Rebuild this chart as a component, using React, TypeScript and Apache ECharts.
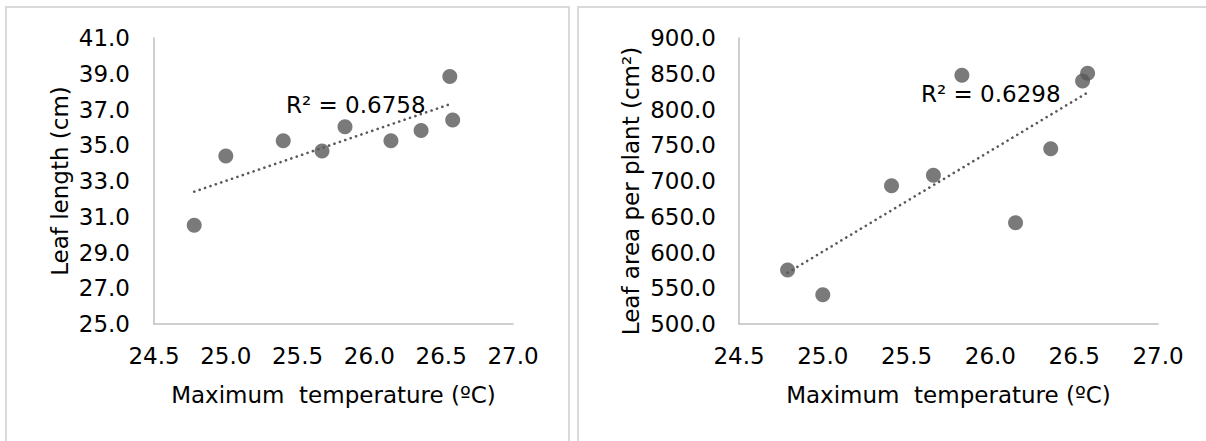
import React, { useEffect, useRef } from "react";
import * as echarts from "echarts";

// Maximum temperature (ºC) per observation
const maxTemp = [24.78, 25.0, 25.4, 25.67, 25.83, 26.15, 26.36, 26.56, 26.58];
// Leaf length (cm)
const leafLength = [30.52, 34.4, 35.25, 34.68, 36.04, 35.25, 35.82, 38.84, 36.41];
// Leaf area per plant (cm²) – temps for this panel
const maxTemp2 = [24.79, 25.0, 25.41, 25.66, 25.83, 26.15, 26.36, 26.55, 26.58];
const leafArea = [575.5, 541.0, 693.5, 708.0, 847.8, 641.7, 745.2, 839.9, 850.6];

const r2Left = "R² = 0.6758";
const r2Right = "R² = 0.6298";

const xTitle = "Maximum  temperature (ºC)";
const yTitleLeft = "Leaf length (cm)";
const yTitleRight = "Leaf area per plant (cm²)";

function trend(xs: number[], ys: number[]): number[][] {
  const n = xs.length;
  const mx = xs.reduce((a, b) => a + b, 0) / n;
  const my = ys.reduce((a, b) => a + b, 0) / n;
  let sxy = 0;
  let sxx = 0;
  for (let i = 0; i < n; i++) {
    sxy += (xs[i] - mx) * (ys[i] - my);
    sxx += (xs[i] - mx) * (xs[i] - mx);
  }
  const b = sxy / sxx;
  const a = my - b * mx;
  const x0 = Math.min(...xs);
  const x1 = Math.max(...xs);
  return [
    [x0, a + b * x0],
    [x1, a + b * x1],
  ];
}

const FONT = "DejaVu Sans";
const MARK = "#595959";

export default function App() {
  const ref = useRef<HTMLDivElement>(null);
  useEffect(() => {
    if (!ref.current) return;
    const chart = echarts.init(ref.current, undefined, { renderer: "svg" });
    const axisLine = { show: true, lineStyle: { color: "#bfbfbf", width: 1.5 } };
    const xAxisBase = {
      type: "value" as const,
      min: 24.5,
      max: 27.0,
      interval: 0.5,
      axisLine,
      axisTick: { show: false },
      splitLine: { show: false },
      axisLabel: {
        color: "#000",
        fontFamily: FONT,
        fontSize: 23,
        margin: 20,
        formatter: (v: number) => v.toFixed(1),
      },
      name: xTitle,
      nameLocation: "middle" as const,
      nameGap: 59,
      nameTextStyle: { color: "#000", fontFamily: FONT, fontSize: 23 },
    };
    const option = {
      animation: false,
      backgroundColor: "#fff",
      grid: [
        { left: 154, top: 38, width: 359, height: 286 },
        { left: 739, top: 38, width: 419, height: 286 },
      ],
      xAxis: [
        { ...xAxisBase, gridIndex: 0 },
        { ...xAxisBase, gridIndex: 1 },
      ],
      yAxis: [
        {
          type: "value",
          gridIndex: 0,
          min: 25,
          max: 41,
          interval: 2,
          axisLine,
          axisTick: { show: false },
          splitLine: { show: false },
          axisLabel: {
            color: "#000",
            fontFamily: FONT,
            fontSize: 23,
            margin: 24,
            formatter: (v: number) => v.toFixed(1),
          },
          name: yTitleLeft,
          nameLocation: "middle",
          nameRotate: 90,
          nameGap: 83,
          nameTextStyle: { color: "#000", fontFamily: FONT, fontSize: 23 },
        },
        {
          type: "value",
          gridIndex: 1,
          min: 500,
          max: 900,
          interval: 50,
          axisLine,
          axisTick: { show: false },
          splitLine: { show: false },
          axisLabel: {
            color: "#000",
            fontFamily: FONT,
            fontSize: 23,
            margin: 23,
            formatter: (v: number) => v.toFixed(1),
          },
          name: yTitleRight,
          nameLocation: "middle",
          nameRotate: 90,
          nameGap: 97,
          nameTextStyle: {
            color: "#000",
            fontFamily: FONT,
            fontSize: 23,
            padding: [0, 20, 0, 0],
          },
        },
      ],
      series: [
        {
          type: "line",
          xAxisIndex: 0,
          yAxisIndex: 0,
          data: trend(maxTemp, leafLength),
          symbol: "none",
          lineStyle: { color: MARK, width: 2.6, type: [0.1, 5.6], cap: "round" },
          z: 1,
        },
        {
          type: "scatter",
          xAxisIndex: 0,
          yAxisIndex: 0,
          data: maxTemp.map((x, i) => [x, leafLength[i]]),
          symbolSize: 15,
          itemStyle: { color: MARK },
          z: 2,
        },
        {
          type: "line",
          xAxisIndex: 1,
          yAxisIndex: 1,
          data: trend(maxTemp2, leafArea),
          symbol: "none",
          lineStyle: { color: MARK, width: 2.6, type: [0.1, 5.6], cap: "round" },
          z: 1,
        },
        {
          type: "scatter",
          xAxisIndex: 1,
          yAxisIndex: 1,
          data: maxTemp2.map((x, i) => [x, leafArea[i]]),
          symbolSize: 15,
          itemStyle: { color: MARK },
          z: 2,
        },
      ],
      graphic: [
        {
          type: "rect",
          shape: { x: 6, y: 7, width: 563, height: 460 },
          style: { fill: "none", stroke: "#d9d9d9", lineWidth: 2 },
          z: -1,
        },
        {
          type: "rect",
          shape: { x: 578, y: 7, width: 700, height: 460 },
          style: { fill: "none", stroke: "#d9d9d9", lineWidth: 2 },
          z: -1,
        },
        {
          type: "text",
          x: 286,
          y: 105,
          style: {
            text: r2Left,
            fill: "#000",
            font: `23px "${FONT}"`,
            verticalAlign: "middle",
          },
          z: 10,
        },
        {
          type: "text",
          x: 921,
          y: 94,
          style: {
            text: r2Right,
            fill: "#000",
            font: `23px "${FONT}"`,
            verticalAlign: "middle",
          },
          z: 10,
        },
      ],
    };
    chart.setOption(option as any);
    return () => chart.dispose();
  }, []);
  return (
    <div
      ref={ref}
      style={{ position: "fixed", left: 0, top: 0, width: 1206, height: 441 }}
    />
  );
}
